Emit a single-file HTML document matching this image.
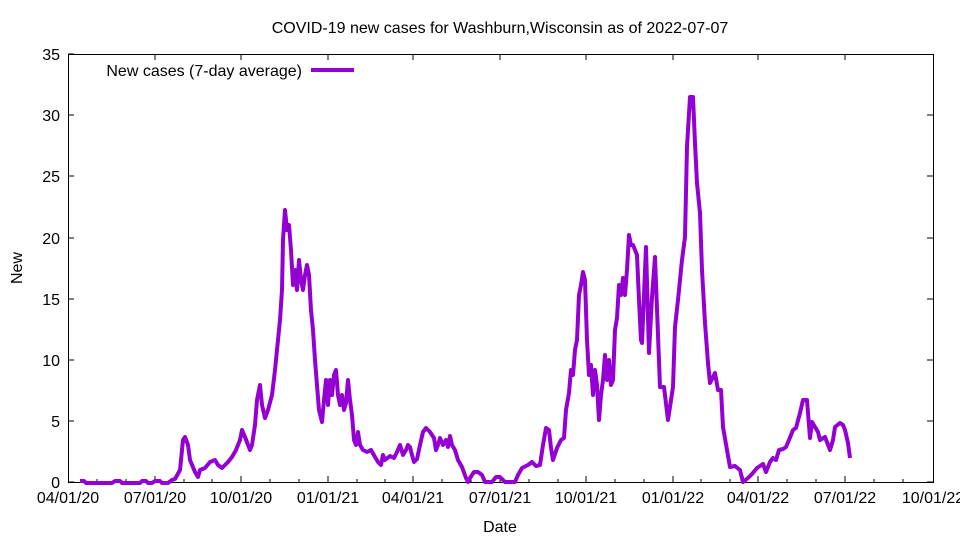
<!DOCTYPE html>
<html><head><meta charset="utf-8"><style>
body{margin:0;background:#fff}
svg text{font-family:"Liberation Sans",sans-serif;font-size:16px;fill:#000}
</style></head><body>
<svg width="960" height="540" xmlns="http://www.w3.org/2000/svg">
<rect width="960" height="540" fill="#fff"/>
<text x="500" y="33" text-anchor="middle">COVID-19 new cases for Washburn,Wisconsin as of 2022-07-07</text>
<g stroke="#000" stroke-width="1">
<rect x="68.5" y="54.5" width="865" height="428" fill="none"/>
<path d="M68 482h6M68 421h6M68 360h6M68 299h6M68 238h6M68 176h6M68 115h6M68 54h6M933 482h-6M933 421h-6M933 360h-6M933 299h-6M933 238h-6M933 176h-6M933 115h-6"/>
<path d="M155 482v-6M241 482v-6M328 482v-6M413 482v-6M500 482v-6M586 482v-6M673 482v-6M758 482v-6M845 482v-6M155 54v6M241 54v6M328 54v6M413 54v6M500 54v6M586 54v6M673 54v6M758 54v6M845 54v6"/>
<path d="M97 482v-3M126 482v-3M184 482v-3M212 482v-3M270 482v-3M299 482v-3M357 482v-3M385 482v-3M442 482v-3M471 482v-3M529 482v-3M558 482v-3M615 482v-3M644 482v-3M701 482v-3M730 482v-3M787 482v-3M816 482v-3M874 482v-3M903 482v-3"/>
</g>
<g text-anchor="end">
<text x="60" y="488">0</text><text x="60" y="427">5</text><text x="60" y="366">10</text><text x="60" y="305">15</text><text x="60" y="244">20</text><text x="60" y="182">25</text><text x="60" y="121">30</text><text x="60" y="60">35</text>
</g>
<g text-anchor="middle">
<text x="68" y="503">04/01/20</text><text x="155" y="503">07/01/20</text><text x="241" y="503">10/01/20</text><text x="328" y="503">01/01/21</text><text x="413" y="503">04/01/21</text><text x="500" y="503">07/01/21</text><text x="586" y="503">10/01/21</text><text x="673" y="503">01/01/22</text><text x="758" y="503">04/01/22</text><text x="845" y="503">07/01/22</text><text x="933" y="503">10/01/22</text>
<text x="500" y="532">Date</text>
</g>
<text x="22" y="268" text-anchor="middle" transform="rotate(-90 22 268)">New</text>
<text x="302" y="76" text-anchor="end">New cases (7-day average)</text>
<line x1="311" y1="70" x2="354" y2="70" stroke="#9400d3" stroke-width="4"/>
<polyline fill="none" stroke="#9400d3" stroke-width="4" stroke-linejoin="round" points="80,481 84,481 86,483 112,483 115,481 120,481 122,483 140,483 142,481 146,481 148,483 152,483 155,481 160,481 162,483 168,483 172,480 175,479 180,470 183,440 185,437 188,445 190,460 195,472 198,477 200,470 205,468 210,462 215,460 218,465 222,468 228,462 232,457 236,450 240,440 242,430 245,437 250,450 252,445 255,425 257,400 260,385 262,405 265,418 268,410 272,395 275,370 278,340 280,320 282,290 283,240 285,210 287,230 289,225 291,250 293,285 295,270 297,290 299,260 301,280 303,290 305,275 307,265 309,275 311,310 313,330 315,360 317,385 319,410 322,422 324,400 326,380 328,405 330,380 332,395 334,375 336,370 338,395 340,405 342,395 344,410 346,403 348,380 350,400 352,415 354,440 356,445 358,432 360,445 363,450 367,452 371,450 375,457 378,462 381,465 383,455 385,460 390,456 394,458 397,452 400,445 403,455 406,450 408,445 410,447 412,455 414,462 417,459 420,445 423,432 426,428 430,432 434,438 436,450 438,445 440,438 443,445 446,440 448,447 450,436 452,445 455,450 458,460 462,467 466,478 468,482 470,478 474,472 478,472 482,475 485,482 492,482 496,477 500,477 505,482 515,482 518,475 522,468 528,465 532,462 536,466 540,465 543,445 546,428 549,430 551,448 553,460 557,448 561,440 564,438 566,410 569,393 571,370 573,375 575,350 577,340 579,295 581,285 583,272 585,280 587,340 589,375 591,365 593,395 595,370 597,385 599,420 601,395 603,380 605,355 607,380 609,360 611,385 613,380 615,330 617,318 619,285 621,295 623,278 625,295 627,270 629,235 631,245 633,245 635,250 637,255 639,300 641,340 642,343 646,247 649,353 652,297 655,257 660,387 664,387 668,420 673,387 675,327 678,300 682,260 685,237 687,147 690,97 693,97 695,143 697,183 700,213 702,270 705,323 708,363 710,383 715,373 718,390 721,390 723,427 727,450 730,467 735,466 740,470 743,482 748,478 752,474 757,468 763,464 766,472 770,462 773,458 776,460 779,450 783,449 786,447 789,440 793,430 796,428 800,413 803,400 807,400 810,438 812,422 815,427 818,432 820,440 825,437 830,450 833,440 835,427 840,423 843,425 845,430 848,443 850,458"/>
</svg>
</body></html>
